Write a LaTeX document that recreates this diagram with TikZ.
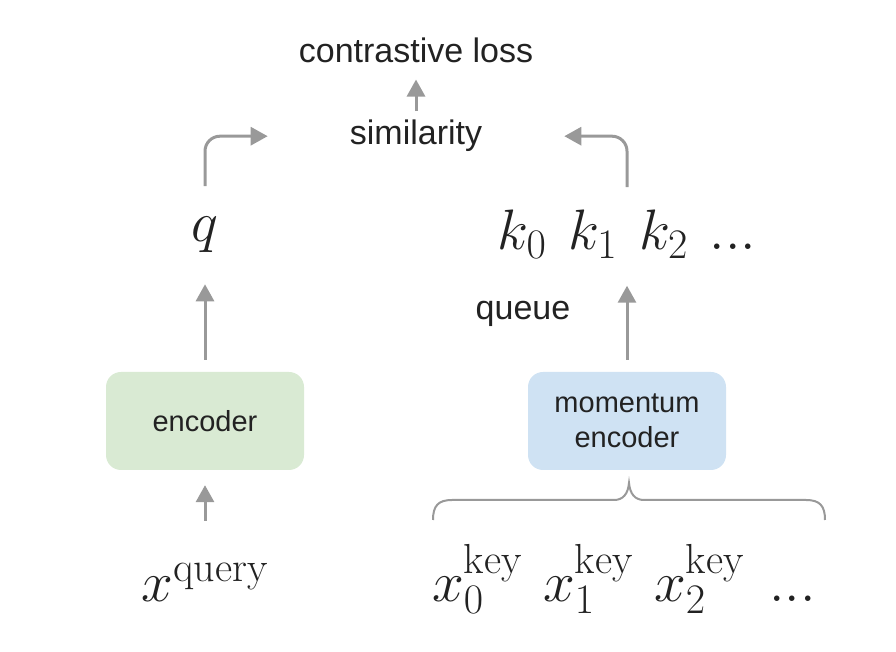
\RequirePackage{fix-cm}
\documentclass[tikz,border=0pt]{standalone}
\usepackage{fontspec}
\newfontfamily\labelfont{Liberation Sans}
\usepackage{xcolor}
\usepackage{amsmath}
\usetikzlibrary{arrows.meta}
\usetikzlibrary{positioning}

\DeclareMathSizes{57}{57}{42}{32}

\definecolor{arrowgray}{HTML}{999999}
\definecolor{textdark}{HTML}{222222}
\definecolor{encgreen}{HTML}{D9EAD3}
\definecolor{encblue}{HTML}{CFE2F3}

\tikzset{
  sanstext/.style={font=\labelfont\fontsize{34}{40}\selectfont, text=textdark, inner sep=0pt, anchor=base},
  mathtext/.style={font=\fontsize{57}{63}\selectfont, text=textdark, inner sep=0pt, anchor=base},
  encbox/.style={rounded corners=15pt, minimum width=198pt, minimum height=98pt, align=center,
    font=\labelfont\fontsize{29}{35}\selectfont, text=textdark, inner sep=0pt},
  grayarrow/.style={arrowgray, line width=3pt, -{Triangle[length=17pt,width=18pt]}},
}

\begin{document}
\begin{tikzpicture}[x=1pt, y=1pt]
      \useasboundingbox (0,0) rectangle (896,652);
      % top
      \node[sanstext] (loss) at (416,589) {contrastive loss};
      \node[sanstext] (sim)  at (416,507) {similarity};
      % query side
      \node[mathtext] (q)  at (205,410) {$q$};
      \node[encbox, fill=encgreen] (enc) at (205,231) {encoder};
      \node[mathtext] (xq) at (205,50)  {$x^{\mathrm{query}}$};
      % key side
      \node[mathtext] (keys)  at (627,402) {$k_0\hspace{22pt}k_1\hspace{22pt}k_2\hspace{22pt}...$};
      \node[sanstext] (queue) at (523,332) {queue};
      \node[encbox, fill=encblue] (menc) at (627,231) {momentum\\encoder};
      \node[mathtext] (xkeys) at (624,50)
        {$x^{\mathrm{key}}_0\hspace{21pt}x^{\mathrm{key}}_1\hspace{21pt}x^{\mathrm{key}}_2\hspace{25pt}...$};
      \path[grayarrow]
        (sim)  edge [shorten <=9pt,  shorten >=16pt] (loss)
        (enc)  edge [shorten <=12pt, shorten >=31pt] (q)
        (xq)   edge [shorten <=42pt, shorten >=15pt] (enc)
        (menc) edge [shorten <=12pt, shorten >=27pt] (keys);
      \draw[grayarrow, rounded corners=15pt, shorten <=31pt] (q.north) |- ([xshift=-82pt]sim.west);
      \draw[grayarrow, rounded corners=15pt, shorten <=23pt] (keys.north) |- ([xshift=82pt]sim.east);
      % brace under the momentum encoder
      \draw[arrowgray, line width=2pt]
        (433,132) .. controls (433,146) and (438,152) .. (452,152) -- (614,152)
        .. controls (623,152) and (628,158) .. (629,169)
        .. controls (630,158) and (635,152) .. (644,152) -- (806,152)
        .. controls (820,152) and (825,146) .. (825,132);
    \end{tikzpicture}
\end{document}
